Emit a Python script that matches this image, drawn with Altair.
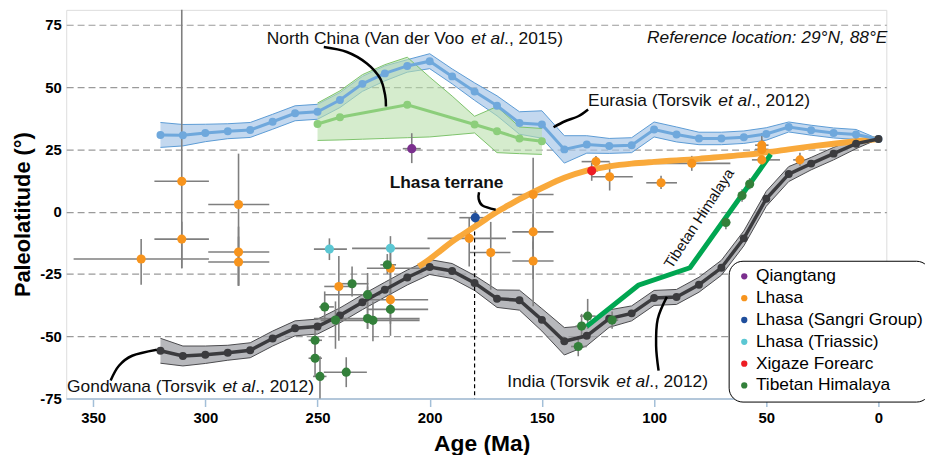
import altair as alt
import pandas as pd

FONT = "Liberation Sans"

# ---------------- APWP data (Torsvik et al., 2012) ----------------
apwp_age = [320, 310, 300, 290, 280, 270, 260, 250, 240, 230, 220, 210, 200, 190, 180, 170,
            160, 150, 140, 130, 120, 110, 100, 90, 80, 70, 60, 50, 40, 30, 20, 10, 0]
eur_lat = [30.8, 30.7, 31.6, 32.3, 32.8, 36.1, 39.5, 40.1, 44.8, 51.3, 55.5, 58.5, 60.4, 54.3, 48.2, 42.5,
           35.6, 35.0, 25.0, 27.0, 26.4, 26.7, 33.0, 31.0, 29.4, 29.4, 29.9, 31.2, 34.0, 32.7, 31.6, 31.0, 29.2]
eur_a95 = [5, 4.3, 3.5, 3, 3, 3, 3, 3, 3, 3, 3, 2.5, 3, 3, 3.5, 4,
           4.5, 5.5, 5.5, 3.5, 3, 3, 3, 3, 2.5, 2.5, 2.5, 2.5, 2, 2, 2, 2, 0]
ind_lat = [-55.8, -57.9, -57.4, -56.6, -55.6, -50.9, -46.8, -46.1, -41.6, -36.3, -31.3, -26.4, -22.2, -23.8, -28.6, -34.9,
           -35.5, -43.4, -52.0, -49.8, -42.9, -40.8, -34.6, -34.2, -29.3, -22.5, -10.7, 5.2, 15.1, 19.3, 23.3, 27.3, 29.2]
ind_a95 = [5, 4, 3.5, 3, 3, 3, 3, 3, 3, 3, 3, 3, 3, 3, 3, 3.5,
           4, 4.5, 5.5, 4, 3.5, 3, 3, 3, 3, 3, 3, 3, 3, 2.5, 2.5, 2, 0]

# North China (Van der Voo et al., 2015)
nc_age = [250, 240, 210, 180, 170, 160, 150]
nc_lat = [35.2, 37.9, 42.9, 35.0, 32.3, 29.4, 28.3]
ncb_age = [250, 240, 230, 220, 210, 200, 190, 180, 170, 160, 150]
ncb_hi = [43.6, 48.5, 55.0, 59.0, 62.0, 54.0, 46.4, 38.3, 42.2, 34.0, 33.4]
ncb_lo = [28.6, 28.8, 29.1, 29.4, 29.7, 30.0, 30.8, 31.6, 23.7, 23.3, 23.0]

# Lhasa terrane path and Tibetan Himalaya path
lt_age = [205, 200, 195, 190, 185, 180, 175, 170, 165, 160, 150, 140, 130, 120, 110, 100, 90, 80,
          70, 60, 50, 40, 30, 20, 10, 0]
lt_lat = [-22, -19, -15.5, -12, -9, -6, -3, 0, 2.5, 5, 9.5, 13.6, 16.5, 18.2, 19.3, 20, 20.6, 21.2,
          22, 22.8, 23.8, 25, 26.2, 27.3, 28.3, 29.2]
th_age = [130, 107, 84, 48]
th_lat = [-46, -29.5, -22.5, 23]

# ---------------- paleomagnetic poles ----------------
groups = ["Qiangtang", "Lhasa", "Lhasa (Sangri Group)", "Lhasa (Triassic)", "Xigaze Forearc", "Tibetan Himalaya"]
group_colors = ["#7b2f8e", "#f7941d", "#1f4e9c", "#5bc7d3", "#ed1c24", "#33803a"]

sc_group = (["Qiangtang"]
            + ["Lhasa"] * 22
            + ["Lhasa (Sangri Group)"]
            + ["Lhasa (Triassic)"] * 2
            + ["Xigaze Forearc"]
            + ["Tibetan Himalaya"] * 19)
sc_age = [208,
          310.5, 310.5, 285.2, 285.2, 285.2, 328.6, 240.5, 217.5, 217.5, 182.4, 172.8, 153.9, 153.9, 153.9,
          125.9, 119.8, 96.9, 83.2, 52, 52, 52, 35,
          179.7,
          244.7, 217.5,
          127.8,
          251.1, 251.1, 248.9, 246.8, 242, 234.6, 237.2, 227.7, 227.7, 225.3, 218.9, 217.5,
          129.6, 132.3, 133.8, 118.7, 68, 60.8, 57.4]
sc_lat = [25.3,
          12.2, -11.0, 2.9, -16.2, -20.2, -19.0, -30.0, -22.7, -35.3, -10.7, -16.4, 6.9, -8.1, -19.8,
          20.1, 14.0, 11.6, 19.4, 26.7, 25.0, 20.8, 20.8,
          -2.4,
          -15.0, -14.7,
          16.4,
          -51.6, -58.8, -66.1, -38.2, -43.5, -28.9, -64.4, -33.3, -42.9, -43.6, -21.3, -39.2,
          -41.9, -45.9, -54.1, -43.5, -4.3, 6.5, 11.1]
sc_age_lo = [212,
             322.7, 322.7, 298.7, 298.7, 298.7, 358.7, 247, 228, 229, 201, 182.4, 163.2, 163.2, 163.2,
             132.3, 127.9, 103.5, 99.9, 55, 55, 56.4, 38,
             186.8,
             251.6, 234.6,
             130,
             254, 254, 252, 249.3, 245, 240.5, 247.2, 247, 251.6, 248.6, 222, 228,
             133, 135, 137, 121, 70, 62, 59]
sc_age_hi = [204,
             298.4, 298.4, 271.5, 271.5, 271.5, 298.4, 234, 200.7, 200.7, 166, 164, 144.8, 144.8, 144.8,
             119.8, 109.5, 89.8, 66, 49, 49, 43.9, 32.8,
             172.8,
             236.9, 200,
             125,
             248, 248, 246, 242.7, 239, 227.3, 228, 222, 204.5, 204.5, 215, 200.7,
             126, 129, 130, 116, 66, 59.5, 56]
sc_lat_lo = [19.5,
             -22.7, -22.7, -29.7, -29.7, -29.7, -29.3, -51.8, -30, -45, -22, -31.3, -37.9, -15, -27,
             17.7, 8.5, 9.1, 16.4, 21, 21, 17, 18.4,
             -5.4,
             -19.4, -29,
             12.4,
             -58, -66, -75, -44, -55, -34, -70.4, -47, -47, -52, -25, -49.8,
             -47, -50, -58, -47, -7, 4, 9]
sc_lat_hi = [31.5,
             81, -4, 23.3, -6, -10, -11, -17.8, -15, -27, -2.1, -4.1, 21.7, -1, -12,
             22.4, 19.7, 14.4, 22.4, 31.6, 29, 25, 23.7,
             0.5,
             -10.7, -9.8,
             19.7,
             -45, -52, -58, -32, -36, -22, -58.4, -24.6, -30, -36, -17, -30,
             -35, -41, -50, -40, -1.5, 9, 13.5]

# Annotation leader curves (age, lat)
ann_id = ["nc"] * 6 + ["eur"] * 4 + ["lt"] * 4 + ["gon"] * 4 + ["ind"] * 4
ann_age = [247.2, 236.9, 228.0, 222.1, 219.9, 219.5,
           144.8, 139.7, 133.8, 129.4,
           178.0, 178.2, 176.5, 170.6,
           342.2, 338.5, 332.6, 321.6,
           98.0, 99.1, 98.4, 94.3]
ann_lat = [66.1, 64.1, 59.5, 53.5, 46.9, 42.2,
           33.9, 36.3, 38.3, 41.0,
           7.8, 5.2, 2.5, 0.8,
           -67.7, -61.8, -57.8, -55.4,
           -63.8, -53.8, -43.2, -34.2]

# ---------------- frames ----------------
eur = pd.DataFrame({"age": apwp_age, "lat": eur_lat,
                    "lo": [a - b for a, b in zip(eur_lat, eur_a95)],
                    "hi": [a + b for a, b in zip(eur_lat, eur_a95)]})
ind = pd.DataFrame({"age": apwp_age, "lat": ind_lat,
                    "lo": [a - b for a, b in zip(ind_lat, ind_a95)],
                    "hi": [a + b for a, b in zip(ind_lat, ind_a95)]})
nc = pd.DataFrame({"age": nc_age, "lat": nc_lat})
ncb = pd.DataFrame({"age": ncb_age, "lo": ncb_lo, "hi": ncb_hi})
lt = pd.DataFrame({"age": lt_age, "lat": lt_lat})
th = pd.DataFrame({"age": th_age, "lat": th_lat})
sc = pd.DataFrame({"group": sc_group, "age": sc_age, "lat": sc_lat,
                   "alo": sc_age_lo, "ahi": sc_age_hi, "llo": sc_lat_lo, "lhi": sc_lat_hi})
ann = pd.DataFrame({"id": ann_id, "age": ann_age, "lat": ann_lat, "i": list(range(len(ann_id)))})
vline = pd.DataFrame({"age": [180], "top": [-2.4], "bot": [-75]})

XS = alt.Scale(domain=[362, -3.5], nice=False, zero=False)
YS = alt.Scale(domain=[-75, 81], nice=False, zero=False)
xaxis = alt.Axis(values=[350, 300, 250, 200, 150, 100, 50, 0], title="Age (Ma)", grid=False,
                 domainColor="#b3c7da", domainWidth=2, tickColor="#a3bfd8", tickSize=8, tickWidth=1.5,
                 labelFontSize=15, labelFontWeight="bold", labelColor="black", labelPadding=4,
                 labelFlush=False, titleFontSize=23, titleFontWeight="bold", titleColor="black",
                 titleX=419, titleY=45, titleBaseline="middle")
yaxis = alt.Axis(values=[-75, -50, -25, 0, 25, 50, 75], title="Paleolatitude (°)", domain=False,
                 ticks=False, labelFontSize=15, labelFontWeight="bold", labelColor="black",
                 labelPadding=5, labelExpr="datum.value", grid=True, gridColor="#9a9a9a",
                 gridDash=[7, 4], gridWidth=1.2, titleFontSize=22, titleFontWeight="bold",
                 titleColor="black", titleX=-44, titleY=206, titleBaseline="middle")


def X(f):
    return alt.X(f, type="quantitative", scale=XS, axis=xaxis)


def Y(f):
    return alt.Y(f, type="quantitative", scale=YS, axis=yaxis)


def band(df, fill, edge, op):
    a = alt.Chart(df).mark_area(color=fill, opacity=op, orient="vertical").encode(
        X("age"), Y("lo"), alt.Y2("hi"))
    l1 = alt.Chart(df).mark_line(color=edge, strokeWidth=1).encode(X("age"), Y("lo"))
    l2 = alt.Chart(df).mark_line(color=edge, strokeWidth=1).encode(X("age"), Y("hi"))
    return [a, l1, l2]


layers = []
layers += band(eur, "#a9c8e8", "#5b9bd5", 0.7)
layers += band(ncb, "#b9e0ac", "#7dc26b", 0.6)
layers += band(ind, "#9fa0a5", "#4a4a4d", 0.75)

# error bars
layers.append(alt.Chart(sc).mark_rule(color="#7f7f7f", strokeWidth=1.6).encode(
    X("alo"), alt.X2("ahi"), Y("lat")))
layers.append(alt.Chart(sc).mark_rule(color="#7f7f7f", strokeWidth=1.6).encode(
    X("age"), Y("llo"), alt.Y2("lhi")))
layers.append(alt.Chart(vline).mark_rule(color="black", strokeWidth=1.2, strokeDash=[4, 3]).encode(
    X("age"), Y("top"), alt.Y2("bot")))

# Lhasa terrane and Tibetan Himalaya paths
layers.append(alt.Chart(lt).mark_line(color="#f9a93b", strokeWidth=6, interpolate="monotone").encode(
    X("age"), Y("lat")))
layers.append(alt.Chart(th).mark_line(color="#00a651", strokeWidth=5).encode(X("age"), Y("lat")))

# APWP lines + points
for df, col, w in [(eur, "#6fa8dc", 3), (nc, "#8cce7b", 3), (ind, "#3b3b3e", 3.5)]:
    layers.append(alt.Chart(df).mark_line(color=col, strokeWidth=w).encode(X("age"), Y("lat")))
    layers.append(alt.Chart(df).mark_circle(color=col, size=64, opacity=1).encode(X("age"), Y("lat")))

# poles
layers.append(alt.Chart(sc).mark_circle(size=85, opacity=1).encode(
    X("age"), Y("lat"),
    color=alt.Color("group:N", scale=alt.Scale(domain=groups, range=group_colors),
                    legend=alt.Legend(orient="none", legendX=668, legendY=253, title=None,
                                      cornerRadius=14, strokeColor="black", fillColor="white",
                                      padding=7, labelFontSize=17.5, labelFont=FONT, labelLimit=400,
                                      labelColor="black", symbolSize=40, symbolType="circle",
                                      rowPadding=3, labelOffset=3, symbolStrokeWidth=0))))

# leader curves
layers.append(alt.Chart(ann).mark_line(color="black", strokeWidth=2.5, interpolate="cardinal").encode(
    X("age"), Y("lat"), detail="id:N", order="i:Q"))


def txt(age, lat, s, dx=0, style="normal", weight="normal", size=17.5, align="left", angle=0):
    df = pd.DataFrame({"age": [age], "lat": [lat], "t": [s]})
    kw = dict(font=FONT, fontSize=size, align=align, baseline="middle", dx=dx,
              fontStyle=style, fontWeight=weight, color="#111111")
    if angle:
        kw["angle"] = angle
    return alt.Chart(df).mark_text(**kw).encode(X("age"), Y("lat"), text="t:N")


layers += [
    txt(272.6, 69.3, "North China (Van der Voo "),
    txt(272.6, 69.3, "et al", dx=206.2, style="italic"),
    txt(272.6, 69.3, "., 2015)", dx=239.3),
    txt(129.4, 44.6, "Eurasia (Torsvik "),
    txt(129.4, 44.6, "et al", dx=131.3, style="italic"),
    txt(129.4, 44.6, "., 2012)", dx=164.4),
    txt(361.6, -70.4, "Gondwana (Torsvik "),
    txt(361.6, -70.4, "et al", dx=156.6, style="italic"),
    txt(361.6, -70.4, "., 2012)", dx=189.7),
    txt(165.4, -68.2, "India (Torsvik "),
    txt(165.4, -68.2, "et al", dx=109.9, style="italic"),
    txt(165.4, -68.2, "., 2012)", dx=143.0),
    txt(192.5, 11.4, "Lhasa terrane", weight="bold", align="center"),
    txt(-4.0, 69.7, "Reference location: 29°N, 88°E", style="italic", align="right"),
    txt(80.0, -2.7, "Tibetan Himalaya", size=15, align="center", angle=303),
]

chart = alt.layer(*layers).properties(
    width=827, height=392,
    autosize=alt.AutoSizeParams(type="none"),
    padding={"left": 58.7, "top": 0, "right": 39, "bottom": 55},
).configure_view(stroke=None).configure(font=FONT)

chart.save("out.html", embed_options={"renderer": "svg", "actions": False})
